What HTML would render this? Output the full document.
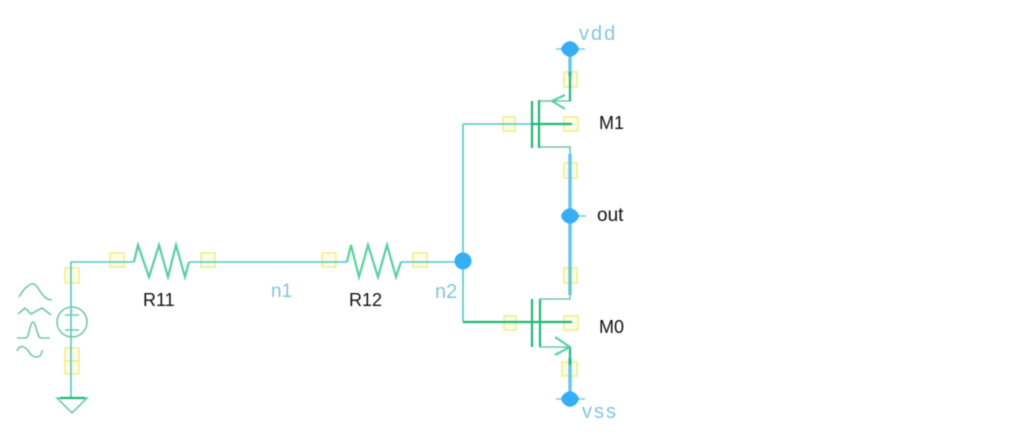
<!DOCTYPE html>
<html><head><meta charset="utf-8"><style>
html,body{margin:0;padding:0;background:#fff;width:1013px;height:435px;overflow:hidden}
svg{display:block;filter:blur(0.45px)}
text{font-family:"Liberation Sans",sans-serif;font-size:18px}
.k{fill:#111}.b{fill:#86c4dc}
.y rect{fill:#fdfde4;stroke:#f0ec90;stroke-width:1.5}
.w{stroke:#55c6c8;stroke-width:1.6;fill:none}
.c{stroke:#58d0a0;stroke-width:2.2;fill:none}
.t{stroke:#70c8a8;stroke-width:1.6;fill:none}
.g{stroke:#20b878;stroke-width:2.2;fill:none}
.p{stroke:#62c6f0;stroke-width:3.4;fill:none}
.h{stroke:#7cc8e8;stroke-width:1.6;fill:none}
</style></head><body>
<svg width="1013" height="435" viewBox="0 0 1013 435" xmlns="http://www.w3.org/2000/svg">
<g class="y">
<rect x="65" y="268" width="14" height="15"/><rect x="65" y="348" width="14" height="13"/><rect x="65" y="361" width="14" height="13"/>
<rect x="110" y="253" width="14" height="14"/><rect x="201" y="253" width="14" height="14"/>
<rect x="322" y="253" width="14" height="14"/><rect x="413" y="253" width="14" height="14"/>
<rect x="503" y="117" width="12" height="14"/><rect x="564" y="117" width="14" height="14"/><rect x="564" y="72" width="13" height="15"/><rect x="564" y="163" width="13" height="15"/>
<rect x="504" y="316" width="12" height="14"/><rect x="564" y="316" width="14" height="14"/><rect x="564" y="268" width="13" height="15"/><rect x="562" y="362" width="15" height="14"/>
</g>
<path class="w" d="M71 397V262H134M189 262H347M401 262H463M463 124V322M463 124H532M463 322H532"/>
<circle cx="72" cy="322" r="15" class="t"/>
<path class="t" d="M65 315h14M72 311v1M65 330h14"/>
<path class="c" d="M134 262L138 245L149 277L159 245L168 277L176 245L185 277L189 262"/>
<path class="c" d="M347 262L351 245L359 277L368 245L378 277L387 245L396 277L401 262"/>
<path class="t" d="M57 398H87L72 413Z"/>
<path class="g" d="M60 398H85"/>
<path class="t" d="M19 297C24 288 30 283 34 284C39 286 42 300 52 300"/>
<path class="t" d="M18 314L25 308L31 314L42 308L51 315"/>
<path class="t" d="M17 338H26C29 338 30 322 33 322C36 322 37 338 41 338H50"/>
<path class="t" d="M17 351C20 344 25 346 29 352C32 358 42 360 42 350"/>
<path class="p" d="M570 49V76M570 154V216M570 216V295M570 358V399"/>
<path class="t" d="M570 76V101H539M539 147H570V154M570 268V299H540M540 347H570V368"/>
<path class="g" d="M532 101V148M539 100V148M532 124H572M570 72V101"/>
<path class="c" d="M565 95L552 101L565 109"/>
<path class="g" d="M532 299V347M540 299V347M463 322H572M570 347V365"/>
<path class="c" d="M555 337L570 347L555 355"/>
<path class="h" d="M556 49H585M570 216H586M556 399H585"/>
<g fill="#35aef5">
<path d="M570 41C575 42 578 45 579 49C578 53 575 56 570 57C565 56 562 53 561 49C562 45 565 42 570 41Z"/>
<path d="M570 208C575 209 578 212 579 216C578 220 575 223 570 224C565 223 562 220 561 216C562 212 565 209 570 208Z"/>
<path d="M570 391C575 392 578 395 579 399C578 403 575 406 570 407C565 406 562 403 561 399C562 395 565 392 570 391Z"/>
<circle cx="463" cy="261" r="8.5"/>
</g>
<text class="k" x="143" y="306">R11</text>
<text class="k" x="349" y="306">R12</text>
<text class="k" x="599" y="129">M1</text>
<text class="k" x="599" y="333">M0</text>
<text class="k" x="597" y="221" style="font-size:19px">out</text>
<text class="b" x="271" y="297" style="font-size:19px">n1</text>
<text class="b" x="435" y="298" style="font-size:20px">n2</text>
<text class="b" x="579" y="40" style="font-size:20px;letter-spacing:2px">vdd</text>
<text class="b" x="582" y="418" style="font-size:20px;letter-spacing:2px">vss</text>
</svg>
</body></html>
